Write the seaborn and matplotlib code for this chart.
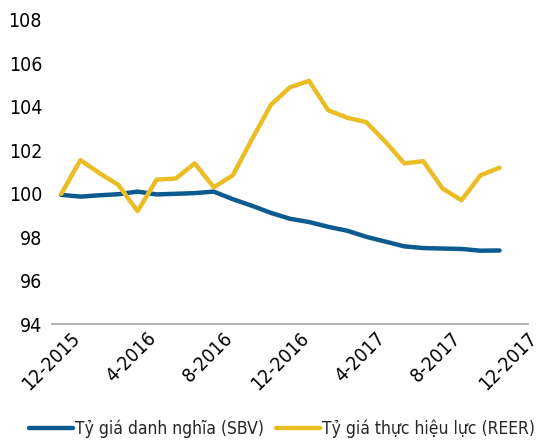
import pandas as pd
import matplotlib.pyplot as plt
import matplotlib.transforms as mtransforms
import seaborn as sns

# Dữ liệu theo tháng (12-2015 .. 11-2017)
thang = ['12-2015', '1-2016', '2-2016', '3-2016', '4-2016', '5-2016', '6-2016', '7-2016',
         '8-2016', '9-2016', '10-2016', '11-2016', '12-2016', '1-2017', '2-2017', '3-2017',
         '4-2017', '5-2017', '6-2017', '7-2017', '8-2017', '9-2017', '10-2017', '11-2017']
sbv = [99.95, 99.87, 99.93, 99.98, 100.1, 99.97, 100.0, 100.03, 100.1, 99.75, 99.45, 99.12,
       98.85, 98.7, 98.48, 98.3, 98.02, 97.8, 97.58, 97.5, 97.48, 97.46, 97.38, 97.39]
reer = [100.0, 101.55, 100.95, 100.4, 99.2, 100.65, 100.7, 101.4, 100.3, 100.85, 102.5, 104.1,
        104.9, 105.2, 103.85, 103.5, 103.3, 102.4, 101.4, 101.5, 100.25, 99.7, 100.85, 101.2]
nhan_truc_x = ['12-2015', '4-2016', '8-2016', '12-2016', '4-2017', '8-2017', '12-2017']
ten_sbv = 'Tỷ giá danh nghĩa (SBV)'
ten_reer = 'Tỷ giá thực hiệu lực (REER)'

df = pd.DataFrame({'idx': range(len(thang)), 'Tháng': thang, ten_sbv: sbv, ten_reer: reer})
df = df.melt(id_vars=['idx', 'Tháng'], var_name='Chuỗi', value_name='Giá trị')

sns.set_style('white')
plt.rcParams['font.family'] = ['DejaVu Sans']
plt.rcParams['font.stretch'] = 'condensed'

fig = plt.figure(figsize=(5.4, 4.44), dpi=100)
ax = fig.add_axes([0.096, 0.270, 0.882, 0.685])

sns.lineplot(data=df, x='idx', y='Giá trị', hue='Chuỗi',
             palette={ten_sbv: '#0B5A90', ten_reer: '#EABD24'},
             linewidth=3.2, ax=ax)

ax.set_xlim(-0.5, 24.5)
ax.set_ylim(94, 108)
ax.set_yticks(range(94, 109, 2))
ax.set_xticks(range(0, 25, 4))
ax.set_xticklabels(nhan_truc_x, rotation=45, ha='right', rotation_mode='anchor')
ax.tick_params(axis='both', length=0, labelsize=14, colors='black')
ax.tick_params(axis='y', pad=7)
ax.tick_params(axis='x', pad=3)
ax.set_xlabel('')
ax.set_ylabel('')

# dịch nhãn trục x sang phải một chút
dich = mtransforms.ScaledTranslation(9 / 100, 0, fig.dpi_scale_trans)
for lbl in ax.get_xticklabels():
    lbl.set_transform(lbl.get_transform() + dich)

for s in ['top', 'right', 'left']:
    ax.spines[s].set_visible(False)
ax.spines['bottom'].set_color('#A6A6A6')
ax.spines['bottom'].set_linewidth(1.2)

ax.legend(loc='center', bbox_to_anchor=(0.484, -0.345), ncol=2, frameon=False,
          fontsize=12.5, handlelength=2.5, handletextpad=0.15, columnspacing=0.7,
          borderaxespad=0)

fig.savefig('out.png', dpi=100)
